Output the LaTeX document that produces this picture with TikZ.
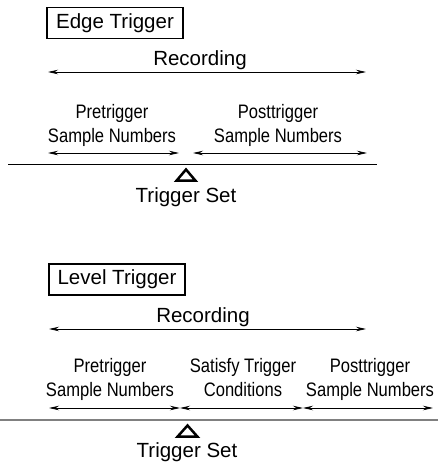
\documentclass[tikz,border=0pt]{standalone}
\usepackage{fontspec}
\setmainfont{Liberation Sans}
\newfontfamily\narrowfont[FakeStretch=0.85]{Liberation Sans}
\usetikzlibrary{arrows.meta}
\tikzset{
  lbl/.style={font=\fontsize{20.5}{24}\selectfont, inner sep=0pt, anchor=base},
  ann/.style={font=\narrowfont\fontsize{19.5}{24}\selectfont, inner sep=0pt, align=center, anchor=north},
  titlebox/.style={draw, line width=1.3pt, font=\fontsize{20.5}{24}\selectfont, minimum width=136pt, minimum height=31pt, inner sep=0pt},
  span/.style={line width=0.8pt, {Stealth[length=10pt,width=4.5pt]}-{Stealth[length=10pt,width=4.5pt]}},
  trig/.style={draw, line width=2.5pt, line join=miter},
}
\begin{document}
\begin{tikzpicture}[x=1pt,y=-1pt]
\useasboundingbox (0,0) rectangle (438,463);
% ---- Edge trigger ----
\node[titlebox] (edge) at (115,23) {Edge Trigger};
\node[lbl] (rec1) at (200,65) {Recording};
\coordinate (r1a) at (48,72); \coordinate (r1b) at (366,72);
\draw[span] (r1a) -- (r1b);
\node[ann] (pre1) at (112,104) {Pretrigger\\Sample Numbers};
\node[ann] (post1) at (278,104) {Posttrigger\\Sample Numbers};
\coordinate (p1a) at (48,153); \coordinate (p1b) at (179,153);
\coordinate (p1c) at (193,153); \coordinate (p1d) at (367,153);
\draw[span] (p1a) -- (p1b);
\draw[span] (p1c) -- (p1d);
\coordinate (b1a) at (8,164); \coordinate (b1b) at (377,164);
\draw[line width=1pt] (b1a) -- (b1b);
\coordinate (t1a) at (186,169.5); \coordinate (t1b) at (195.5,180.7); \coordinate (t1c) at (176.5,180.7);
\draw[trig] (t1a) -- (t1b) -- (t1c) -- cycle;
\node[lbl] (set1) at (186,202) {Trigger Set};
% ---- Level trigger ----
\node[titlebox] (level) at (117,279.5) {Level Trigger};
\node[lbl] (rec2) at (203,322) {Recording};
\coordinate (r2a) at (49,329); \coordinate (r2b) at (366,329);
\draw[span] (r2a) -- (r2b);
\node[ann] (pre2) at (110,358) {Pretrigger\\Sample Numbers};
\node[ann] (sat2) at (243,358) {Satisfy Trigger\\Conditions};
\node[ann] (post2) at (370,358) {Posttrigger\\Sample Numbers};
\coordinate (q2a) at (49,408); \coordinate (q2b) at (180,408);
\coordinate (q2c) at (303,408); \coordinate (q2d) at (433,408);
\draw[span] (q2a) -- (q2b);
\draw[span] (q2b) -- (q2c);
\draw[span] (q2c) -- (q2d);
\coordinate (b2a) at (0,420); \coordinate (b2b) at (438,420);
\draw[line width=2pt, gray] (b2a) -- (b2b);
\coordinate (t2a) at (187.5,425.5); \coordinate (t2b) at (197.5,436.7); \coordinate (t2c) at (177.5,436.7);
\draw[trig] (t2a) -- (t2b) -- (t2c) -- cycle;
\node[lbl] (set2) at (187,457) {Trigger Set};
\end{tikzpicture}
\end{document}
